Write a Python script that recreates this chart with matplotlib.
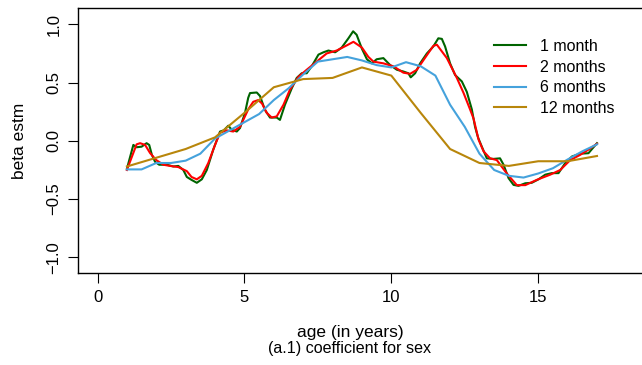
import numpy as np
import matplotlib
matplotlib.use("Agg")
import matplotlib.pyplot as plt

plt.rcParams['font.family'] = ['Liberation Sans', 'DejaVu Sans']

# age (years) and estimated beta for each lag window
age_1m = [1.0, 1.22, 1.33, 1.5, 1.67, 1.76, 1.85, 1.96, 2.1, 2.36, 2.58, 2.75, 2.92, 3.04,
          3.2, 3.38, 3.55, 3.72, 3.94, 4.17, 4.3, 4.45, 4.57, 4.74, 4.85, 5.02, 5.13, 5.19,
          5.42, 5.53, 5.7, 5.87, 6.1, 6.21, 6.38, 6.61, 6.78, 6.95, 7.12, 7.29, 7.52, 7.69,
          7.86, 8.09, 8.31, 8.54, 8.7, 8.82, 9.0, 9.17, 9.34, 9.5, 9.73, 9.96, 10.19, 10.41,
          10.58, 10.66, 10.81, 10.98, 11.21, 11.43, 11.6, 11.72, 11.83, 12.0, 12.17, 12.4,
          12.57, 12.74, 12.85, 12.95, 13.08, 13.25, 13.48, 13.7, 13.82, 13.99, 14.16, 14.33,
          14.56, 14.78, 15.01, 15.24, 15.46, 15.69, 15.92, 16.15, 16.43, 16.71, 17.0]
beta_1m = [-0.24, -0.035, -0.055, -0.05, -0.02, -0.035, -0.12, -0.18, -0.205, -0.205, -0.22,
           -0.215, -0.25, -0.31, -0.335, -0.36, -0.33, -0.25, -0.075, 0.08, 0.09, 0.13, 0.095,
           0.08, 0.11, 0.24, 0.37, 0.41, 0.415, 0.385, 0.265, 0.2, 0.2, 0.18, 0.31, 0.45, 0.54,
           0.58, 0.58, 0.64, 0.74, 0.76, 0.775, 0.76, 0.8, 0.88, 0.94, 0.91, 0.79, 0.7, 0.665,
           0.7, 0.71, 0.65, 0.61, 0.595, 0.58, 0.545, 0.58, 0.665, 0.75, 0.81, 0.88, 0.875,
           0.81, 0.665, 0.565, 0.51, 0.42, 0.27, 0.12, 0.03, -0.05, -0.15, -0.155, -0.15,
           -0.205, -0.32, -0.378, -0.386, -0.364, -0.36, -0.33, -0.29, -0.277, -0.277, -0.19,
           -0.134, -0.11, -0.106, -0.02]

age_2m = [1.0, 1.33, 1.45, 1.62, 1.79, 2.0, 2.24, 2.47, 2.75, 3.04, 3.2, 3.38, 3.55, 3.77,
          4.0, 4.17, 4.4, 4.62, 4.85, 5.13, 5.3, 5.47, 5.6, 5.76, 5.93, 6.1, 6.33, 6.55, 6.84,
          7.12, 7.46, 7.8, 8.14, 8.49, 8.71, 9.0, 9.22, 9.39, 9.73, 10.07, 10.41, 10.64, 10.87,
          11.1, 11.43, 11.55, 11.89, 12.23, 12.46, 12.68, 12.8, 12.97, 13.14, 13.36, 13.59,
          13.93, 14.27, 14.56, 14.95, 15.41, 15.75, 16.09, 16.43, 16.71, 17.0]
beta_2m = [-0.25, -0.03, -0.02, -0.035, -0.105, -0.165, -0.205, -0.215, -0.225, -0.26, -0.31,
           -0.33, -0.3, -0.19, -0.035, 0.07, 0.09, 0.08, 0.12, 0.27, 0.335, 0.35, 0.32, 0.24,
           0.2, 0.21, 0.31, 0.44, 0.55, 0.61, 0.68, 0.75, 0.775, 0.82, 0.85, 0.8, 0.72, 0.68,
           0.665, 0.64, 0.585, 0.575, 0.61, 0.695, 0.815, 0.825, 0.71, 0.54, 0.41, 0.27, 0.19,
           0.01, -0.09, -0.15, -0.165, -0.28, -0.38, -0.38, -0.335, -0.29, -0.25, -0.165,
           -0.12, -0.075, -0.025]

age_6m = [1.0, 1.5, 2.0, 2.5, 3.0, 3.5, 4.0, 4.5, 5.0, 5.5, 6.0, 6.5, 7.0, 7.5, 8.0, 8.5,
          9.0, 9.5, 10.0, 10.5, 11.0, 11.5, 12.0, 12.5, 13.0, 13.5, 14.0, 14.5, 15.0, 15.5,
          16.0, 16.5, 17.0]
beta_6m = [-0.245, -0.245, -0.19, -0.19, -0.17, -0.11, 0.02, 0.09, 0.16, 0.23, 0.35, 0.45,
           0.57, 0.68, 0.7, 0.72, 0.69, 0.65, 0.63, 0.675, 0.64, 0.56, 0.31, 0.12, -0.11,
           -0.25, -0.3, -0.315, -0.28, -0.235, -0.16, -0.09, -0.03]

age_12m = [1, 2, 3, 4, 5, 6, 7, 8, 9, 10, 11, 12, 13, 14, 15, 16, 17]
beta_12m = [-0.22, -0.145, -0.07, 0.03, 0.24, 0.46, 0.53, 0.54, 0.63, 0.56, 0.24, -0.07,
            -0.19, -0.215, -0.175, -0.175, -0.13]

labels = ["1 month", "2 months", "6 months", "12 months"]
colors = ["#006400", "#ff0000", "#45a2dc", "#b8860b"]

fig = plt.figure(figsize=(6.42, 3.65), dpi=100)
ax = fig.add_axes([78 / 642, 92 / 365, 566 / 642, 265 / 365])

ax.plot(age_1m, beta_1m, color=colors[0], lw=1.5, label=labels[0])
ax.plot(age_2m, beta_2m, color=colors[1], lw=1.5, label=labels[1])
ax.plot(age_6m, beta_6m, color=colors[2], lw=1.5, label=labels[2])
ax.plot(age_12m, beta_12m, color=colors[3], lw=1.5, label=labels[3])

ax.set_xlim(-0.664, 18.6)
ax.set_ylim(-1.134, 1.14)
ax.set_xticks([0, 5, 10, 15])
ax.set_yticks([-1.0, -0.5, 0.0, 0.5, 1.0])
ax.set_yticklabels(["\u22121.0", "\u22120.5", "0.0", "0.5", "1.0"], rotation=90, va="center")
ax.tick_params(direction="out", length=7, width=0.8, labelsize=12, pad=5)
for s in ax.spines.values():
    s.set_linewidth(1.0)

# axis titles placed like R's mtext lines
fig.text(20 / 642, 1 - 141 / 365, "beta estm", rotation=90, ha="center", va="center",
         fontsize=12.5)
fig.text(350 / 642, 1 - 333 / 365, "age (in years)", ha="center", va="center", fontsize=12.5)
fig.text(350 / 642, 1 - 349 / 365, "(a.1) coefficient for sex", ha="center", va="center",
         fontsize=11.6)

ax.legend(loc="upper left", bbox_to_anchor=(486 / 642, 1 - 31 / 365),
          bbox_transform=fig.transFigure, frameon=False, fontsize=11.5,
          handlelength=2.0, handletextpad=0.9, labelspacing=0.35, borderpad=0)

fig.savefig("out.png", dpi=100)
